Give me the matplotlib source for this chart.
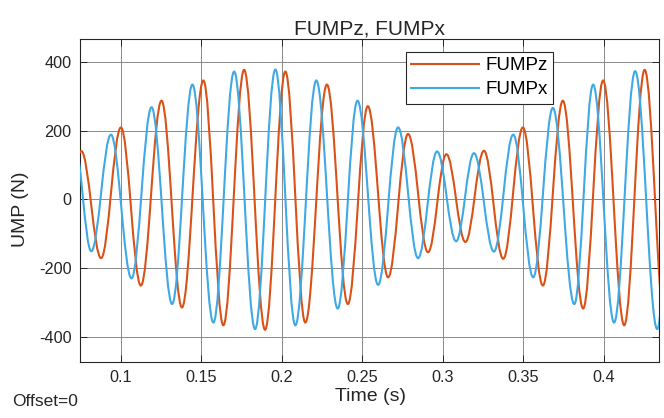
import matplotlib
matplotlib.use('Agg')
import matplotlib.pyplot as plt
from matplotlib.path import Path
from matplotlib.patches import PathPatch
from matplotlib.lines import Line2D

plt.rcParams['font.family'] = ['Liberation Sans', 'DejaVu Sans']
plt.rcParams['axes.unicode_minus'] = False

# extrema (time in s, force in N)
# first / last points sit just outside the visible window
t_z = [0.0632, 0.0756, 0.0879, 0.1002, 0.1126, 0.1254, 0.1381, 0.1514, 0.1638,
       0.1767, 0.1897, 0.2023, 0.2147, 0.2281, 0.2411, 0.2535, 0.2661, 0.2785,
       0.2909, 0.3023, 0.3141, 0.3256, 0.3376, 0.3498, 0.3622, 0.3746, 0.3872,
       0.3996, 0.4127, 0.4254, 0.4383]
fump_z = [-130, 141, -171, 210, -251, 288, -315, 347, -367,
          378, -380, 373, -359, 335, -305, 272, -227, 191,
          -154, 132, -124, 142, -173, 210, -251, 288, -318,
          347, -367, 378, -380]

t_x = [0.0713, 0.0818, 0.0940, 0.1068, 0.1192, 0.1320, 0.1446, 0.1576, 0.1705,
       0.1835, 0.1961, 0.2085, 0.2215, 0.2348, 0.2471, 0.2599, 0.2723, 0.2847,
       0.2965, 0.3083, 0.3194, 0.3318, 0.3438, 0.3562, 0.3684, 0.3817, 0.3934,
       0.4064, 0.4195, 0.4332, 0.4451]
fump_x = [167, -151, 189, -230, 269, -305, 335, -359, 373,
          -378, 379, -367, 347, -318, 288, -249, 210, -171,
          140, -122, 135, -152, 189, -227, 267, -305, 335,
          -359, 374, -378, 375]

x_ticks = [0.1, 0.15, 0.2, 0.25, 0.3, 0.35, 0.4]
x_ticklabels = ['0.1', '0.15', '0.2', '0.25', '0.3', '0.35', '0.4']
y_ticks = [-400, -200, 0, 200, 400]

C_Z = '#D95319'
C_X = '#3FA9E6'


def wave_path(t, v, k=0.3634):
    # smooth half-wave bezier between consecutive extrema
    verts = [(t[0], v[0])]
    codes = [Path.MOVETO]
    for i in range(len(t) - 1):
        dt = t[i + 1] - t[i]
        verts += [(t[i] + k * dt, v[i]), (t[i + 1] - k * dt, v[i + 1]), (t[i + 1], v[i + 1])]
        codes += [Path.CURVE4] * 3
    return Path(verts, codes)


fig = plt.figure(figsize=(6.64, 4.18), dpi=100)
ax = fig.add_axes([80 / 664, 56 / 418, 579 / 664, 323 / 418])

ax.add_patch(PathPatch(wave_path(t_z, fump_z), fill=False, edgecolor=C_Z, lw=1.5, zorder=3))
ax.add_patch(PathPatch(wave_path(t_x, fump_x), fill=False, edgecolor=C_X, lw=1.5, zorder=3))

ax.set_xlim(0.0748, 0.4343)
ax.set_ylim(-474, 468)
ax.set_xticks(x_ticks)
ax.set_xticklabels(x_ticklabels)
ax.set_yticks(y_ticks)
ax.tick_params(direction='in', top=True, right=True, length=5, width=0.7,
               colors='#262626', labelsize=11.7)
ax.tick_params(axis='x', pad=6)
ax.tick_params(axis='y', pad=6)
for s in ax.spines.values():
    s.set_color('#262626')
    s.set_linewidth(0.8)
ax.grid(True, color='#8a8a8a', lw=0.7)
ax.set_axisbelow(True)

ax.set_title('FUMPz, FUMPx', fontsize=15, color='#262626', pad=3)
ax.set_xlabel('Time (s)', fontsize=14, color='#262626')
ax.xaxis.set_label_coords(0.502, -0.108)
ax.xaxis.label.set_va('center')
ax.set_ylabel('UMP (N)', fontsize=14, color='#262626')
ax.yaxis.set_label_coords(-0.102, 0.474)
ax.yaxis.label.set_va('center')

handles = [Line2D([], [], color=C_Z, lw=1.5), Line2D([], [], color=C_X, lw=1.5)]
leg = ax.legend(handles, ['FUMPz', 'FUMPx'], loc='upper left',
                bbox_to_anchor=((405.7 - 80) / 579, (362 - 51.7) / 323),
                fontsize=13.5, fancybox=False, framealpha=1, edgecolor='#262626',
                handlelength=3.6, handletextpad=0.35, borderpad=0.3,
                labelspacing=0.35, borderaxespad=0)
leg.get_frame().set_linewidth(0.8)

fig.text(12 / 664, 1 - 402 / 418, 'Offset=0', fontsize=12.5, color='#262626', va='center')

fig.savefig('out.png', dpi=100)
